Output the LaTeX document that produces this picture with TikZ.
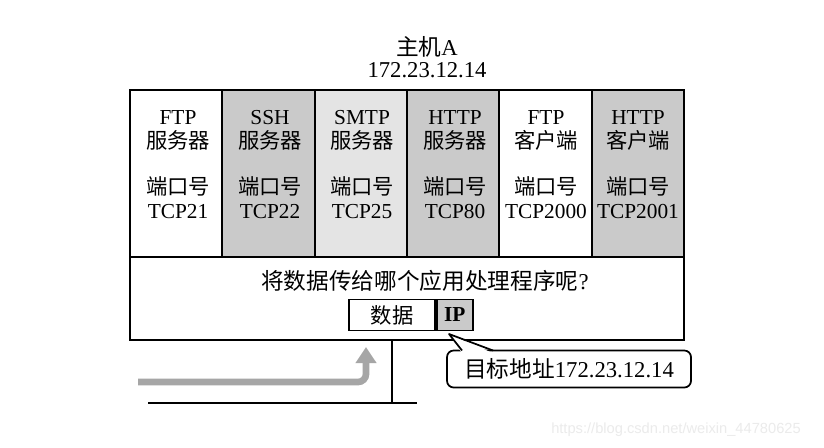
\documentclass[tikz,border=0pt]{standalone}
\usepackage{fontspec}
\setmainfont{Liberation Serif}
\newfontfamily\cjk{Noto Sans CJK SC}
\newfontfamily\wmfont{Liberation Sans}
\newcommand{\zh}[1]{{\cjk #1}}
\usetikzlibrary{positioning,arrows.meta}
\definecolor{midgray}{HTML}{CACACA}
\definecolor{lightgray}{HTML}{E4E4E4}
\begin{document}
\begin{tikzpicture}[x=0.75pt,y=-0.75pt,
    col/.style={draw, inner sep=0pt, minimum width=69.25pt, minimum height=125.25pt},
    lbl/.style={align=center, inner sep=0pt, font=\fontsize{16}{18}\selectfont},
    txt/.style={inner sep=0pt, font=\fontsize{17}{20}\selectfont},
    databox/.style={draw, inner sep=0pt, minimum height=23.25pt, font=\fontsize{16}{18}\selectfont},
    flow/.style={line width=5pt, draw=black!35, line cap=butt, rounded corners=6pt,
        -{Triangle[length=12pt,width=15pt]}}]

        % Stile globale per le linee
        \tikzstyle{every path}=[line width=1.3pt]

        % area del disegno
        \useasboundingbox (0,0) rectangle (824,447);
        \fill[white] (0,0) rectangle (824,447);

        % nome e indirizzo dell'host
        \node[txt] (host) at (427,47) {\zh{主机}A};
        \node[txt] (addr) at (427,70) {172.23.12.14};

        % livello di trasporto / IP (parte bassa)
        \node[draw, inner sep=0pt, minimum width=415.5pt, minimum height=62.25pt] (stack) at (407,298.5) {};

        % colonne delle applicazioni
        \node[col, fill=white] (c1) at (176.2,173.5) {};
        \node[col, fill=midgray] (c2) at (268.5,173.5) {};
        \node[col, fill=lightgray] (c3) at (360.8,173.5) {};
        \node[col, fill=midgray] (c4) at (453.2,173.5) {};
        \node[col, fill=white] (c5) at (545.5,173.5) {};
        \node[col, fill=midgray] (c6) at (637.8,173.5) {};

        % nomi delle applicazioni
        \node[lbl] (n1) at (178,130) {FTP\\\zh{服务器}};
        \node[lbl] (n2) at (270,130) {SSH\\\zh{服务器}};
        \node[lbl] (n3) at (362,130) {SMTP\\\zh{服务器}};
        \node[lbl] (n4) at (455,130) {HTTP\\\zh{服务器}};
        \node[lbl] (n5) at (546,130) {FTP\\\zh{客户端}};
        \node[lbl] (n6) at (638,130) {HTTP\\\zh{客户端}};

        % numeri di porta
        \node[lbl] (p1) at (178,198) {\zh{端口号}\\TCP21};
        \node[lbl] (p2) at (270,198) {\zh{端口号}\\TCP22};
        \node[lbl] (p3) at (362,198) {\zh{端口号}\\TCP25};
        \node[lbl] (p4) at (455,198) {\zh{端口号}\\TCP80};
        \node[lbl] (p5) at (546,198) {\zh{端口号}\\TCP2000};
        \node[lbl] (p6) at (638,198) {\zh{端口号}\\TCP2001};

        % domanda e pacchetto
        \node[txt] (ask) at (425,281) {\zh{将数据传给哪个应用处理程序呢}?};
        \node[databox, fill=white, minimum width=64.5pt] (data) at (392,315) {\zh{数据}};
        \node[databox, fill=midgray, minimum width=27pt, right=0pt of data] (ip) {\textbf{IP}};

        % rete e collegamento
        \coordinate (tap) at (392,403);
        \coordinate (busL) at (148,403);
        \coordinate (busR) at (417,403);
        \draw (stack.south -| tap) -- (tap);
        \draw (busL) -- (busR);

        % freccia grigia del pacchetto in arrivo
        \coordinate (flowA) at (138,382);
        \coordinate (flowB) at (366,347);
        \draw[flow] (flowA) -| (flowB);

        % fumetto con l'indirizzo di destinazione
        \node[draw, fill=white, rounded corners=5pt, inner sep=0pt, minimum width=183pt,
            minimum height=27.75pt, font=\fontsize{17}{20}\selectfont] (dst) at (569,369) {\zh{目标地址}172.23.12.14};
        \coordinate (ptr) at (449,334);
        \coordinate (ptrL) at (462,350.5);
        \coordinate (ptrR) at (493,350.5);
        \fill[white] (ptr) -- ([yshift=-2pt]ptrL) -- ([yshift=-2pt]ptrR) -- cycle;
        \draw[line join=round] (ptrL) -- (ptr) -- (ptrR);

        % filigrana
        \node[text=black!8, font=\wmfont\fontsize{11}{13}\selectfont] (mark) at (676,430) {https://blog.csdn.net/weixin\_44780625};

    \end{tikzpicture}
\end{document}
